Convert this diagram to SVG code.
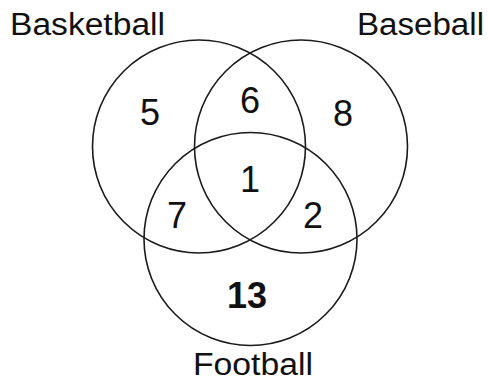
<svg xmlns="http://www.w3.org/2000/svg" width="488" height="386" viewBox="0 0 488 386">
  <style>
    .set { fill: none; stroke: #1a1a1a; stroke-width: 1.6; }
    .label { font-family: "Liberation Sans", Arial, sans-serif; font-size: 31px; fill: #111; }
    .num { font-family: "Liberation Sans", Arial, sans-serif; font-size: 36px; fill: #111; text-anchor: middle; }
    .bold { font-weight: bold; }
  </style>
  <rect width="488" height="386" fill="#ffffff"/>
  <g id="basketball">
    <circle class="set" cx="199" cy="146.5" r="106.5"/>
    <text class="label" x="10" y="35" textLength="155" lengthAdjust="spacingAndGlyphs">Basketball</text>
  </g>
  <g id="baseball">
    <circle class="set" cx="301" cy="146.5" r="106.5"/>
    <text class="label" x="357" y="35" textLength="127" lengthAdjust="spacingAndGlyphs">Baseball</text>
  </g>
  <g id="football">
    <circle class="set" cx="250.5" cy="239" r="106.5"/>
    <text class="label" x="193" y="375" textLength="120" lengthAdjust="spacingAndGlyphs">Football</text>
  </g>
  <g id="counts">
    <text class="num" x="150" y="125">5</text>
    <text class="num" x="250" y="113">6</text>
    <text class="num" x="343" y="126">8</text>
    <text class="num" x="250" y="192">1</text>
    <text class="num" x="177" y="228">7</text>
    <text class="num" x="313" y="228">2</text>
    <text class="num bold" x="247" y="308">13</text>
  </g>
</svg>
